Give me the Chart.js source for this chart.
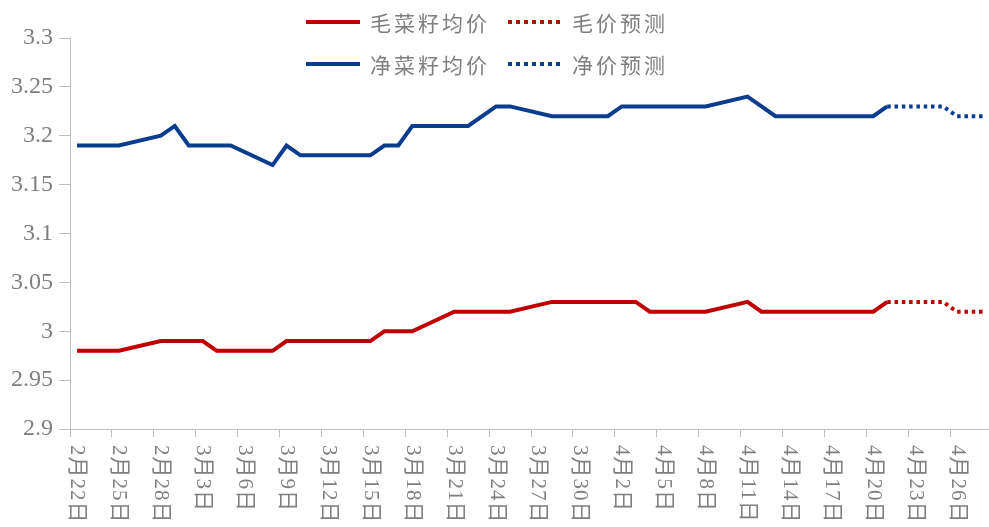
<!DOCTYPE html>
<html>
<head>
<meta charset="utf-8">
<script src="https://cdn.jsdelivr.net/npm/chart.js@4.4.1/dist/chart.umd.min.js"></script>
<style>
    html, body { margin: 0; padding: 0; background: #fff; overflow: hidden; }
    #wrap { position: relative; width: 994px; height: 527px; }
    #legend {
        position: absolute; left: 306px; top: 6px;
        display: grid; grid-template-columns: 202px auto; row-gap: 11px;
    }
    .item {
        display: flex; align-items: center; height: 31px;
        font: 21px "Noto Sans CJK SC", sans-serif; color: #7f7f7f; letter-spacing: 3px;
    }
    .swatch { width: 54px; height: 4px; margin-right: 10px; }
</style>
</head>
<body>
<div id="wrap">
    <canvas id="grafico"></canvas>
    <div id="legend"></div>
</div>
<script>
// datas (eixo diário, 2/22 a 4/28)
var dias = [
    '2月22日', '2月23日', '2月24日', '2月25日', '2月26日', '2月27日', '2月28日',
    '3月1日', '3月2日', '3月3日', '3月4日', '3月5日', '3月6日', '3月7日', '3月8日', '3月9日', '3月10日',
    '3月11日', '3月12日', '3月13日', '3月14日', '3月15日', '3月16日', '3月17日', '3月18日', '3月19日', '3月20日',
    '3月21日', '3月22日', '3月23日', '3月24日', '3月25日', '3月26日', '3月27日', '3月28日', '3月29日', '3月30日', '3月31日',
    '4月1日', '4月2日', '4月3日', '4月4日', '4月5日', '4月6日', '4月7日', '4月8日', '4月9日', '4月10日',
    '4月11日', '4月12日', '4月13日', '4月14日', '4月15日', '4月16日', '4月17日', '4月18日', '4月19日', '4月20日',
    '4月21日', '4月22日', '4月23日', '4月24日', '4月25日', '4月26日', '4月27日', '4月28日'
];

var n = null;
// 毛菜籽均价
var maoPreco = [
    2.98, 2.98, 2.98, 2.98, n, n, 2.99,
    2.99, 2.99, 2.99, 2.98, 2.98, 2.98, 2.98, 2.98, 2.99, 2.99,
    2.99, 2.99, 2.99, 2.99, 2.99, 3.00, 3.00, 3.00, n, n,
    3.02, 3.02, 3.02, 3.02, 3.02, n, n, 3.03, 3.03, 3.03, 3.03,
    3.03, 3.03, 3.03, 3.02, 3.02, 3.02, 3.02, 3.02, n, n,
    3.03, 3.02, 3.02, 3.02, 3.02, 3.02, 3.02, 3.02, 3.02, 3.02,
    3.03, n, n, n, n, n, n, n
];
// 毛价预测
var maoPrev = [
    n, n, n, n, n, n, n,
    n, n, n, n, n, n, n, n, n, n,
    n, n, n, n, n, n, n, n, n, n,
    n, n, n, n, n, n, n, n, n, n, n,
    n, n, n, n, n, n, n, n, n, n,
    n, n, n, n, n, n, n, n, n, n,
    3.03, 3.03, 3.03, 3.03, 3.03, 3.02, 3.02, 3.02
];
// 净菜籽均价
var jingPreco = [
    3.19, 3.19, 3.19, 3.19, n, n, 3.20,
    3.21, 3.19, 3.19, 3.19, 3.19, n, n, 3.17, 3.19, 3.18,
    3.18, 3.18, 3.18, 3.18, 3.18, 3.19, 3.19, 3.21, 3.21, 3.21,
    3.21, 3.21, n, 3.23, 3.23, n, n, 3.22, 3.22, 3.22, 3.22,
    3.22, 3.23, 3.23, 3.23, 3.23, 3.23, 3.23, 3.23, n, n,
    3.24, n, 3.22, 3.22, 3.22, 3.22, 3.22, 3.22, 3.22, 3.22,
    3.23, n, n, n, n, n, n, n
];
// 净价预测
var jingPrev = [
    n, n, n, n, n, n, n,
    n, n, n, n, n, n, n, n, n, n,
    n, n, n, n, n, n, n, n, n, n,
    n, n, n, n, n, n, n, n, n, n, n,
    n, n, n, n, n, n, n, n, n, n,
    n, n, n, n, n, n, n, n, n, n,
    3.23, 3.23, 3.23, 3.23, 3.23, 3.22, 3.22, 3.22
];

var vermelho = '#c00000';
var azul = '#0b3d8f';
var cinza = '#7f7f7f';
var linhaEixo = '#bfbfbf';
var pontilhado = [3.5, 3.8];

// rótulos do eixo x girados 90° no sentido horário
var rotulosX = {
    id: 'rotulosX',
    afterDraw: function (chart) {
        var x = chart.scales.x;
        var ctx = chart.ctx;
        ctx.save();
        ctx.fillStyle = cinza;
        ctx.font = '21px "Liberation Serif", "Noto Sans CJK SC"';
        ctx.letterSpacing = '1px';
        ctx.textAlign = 'left';
        ctx.textBaseline = 'middle';
        dias.forEach(function (d, i) {
            if (i % 3 !== 0) return;
            ctx.save();
            ctx.translate(x.getPixelForValue(i), x.top + 16);
            ctx.rotate(Math.PI / 2);
            ctx.fillText(d, 0, 0);
            ctx.restore();
        });
        ctx.letterSpacing = '0px';
        ctx.restore();
    }
};

var grafico = new Chart(document.getElementById('grafico'), {
    type: 'line',
    data: {
        labels: dias,
        datasets: [
            { label: '毛菜籽均价', data: maoPreco, borderColor: vermelho },
            { label: '毛价预测', data: maoPrev, borderColor: vermelho, borderDash: pontilhado },
            { label: '净菜籽均价', data: jingPreco, borderColor: azul },
            { label: '净价预测', data: jingPrev, borderColor: azul, borderDash: pontilhado }
        ]
    },
    options: {
        responsive: true,
        maintainAspectRatio: false,
        animation: false,
        spanGaps: true,
        layout: { padding: { top: 38, right: 2, left: 0, bottom: 0 } },
        elements: {
            line: { borderWidth: 4, tension: 0, fill: false },
            point: { radius: 0, hoverRadius: 0 }
        },
        plugins: {
            legend: { display: false },
            tooltip: { enabled: false }
        },
        scales: {
            x: {
                type: 'category',
                offset: true,
                grid: {
                    offset: true,
                    drawOnChartArea: false,
                    tickLength: 8,
                    color: function (c) {
                        return (c.index !== undefined && c.index % 3 === 0) ? linhaEixo : 'rgba(0,0,0,0)';
                    }
                },
                border: { color: linhaEixo, width: 1 },
                ticks: { display: false, autoSkip: false },
                afterFit: function (s) { s.height = 98; }
            },
            y: {
                min: 2.9,
                max: 3.3,
                grid: { drawOnChartArea: false, tickLength: 11, color: linhaEixo },
                border: { color: linhaEixo, width: 1 },
                ticks: {
                    stepSize: 0.05,
                    padding: 6,
                    color: cinza,
                    font: { family: '"Liberation Serif", serif', size: 24 },
                    callback: function (v) { return String(Number(v.toFixed(2))); }
                },
                afterFit: function (s) { s.width = 70; }
            }
        }
    },
    plugins: [rotulosX]
});

// legenda em HTML, 2 colunas
var legenda = document.getElementById('legend');
grafico.data.datasets.forEach(function (ds) {
    var item = document.createElement('div');
    item.className = 'item';
    var amostra = document.createElement('span');
    amostra.className = 'swatch';
    if (ds.borderDash) {
        amostra.style.background = 'repeating-linear-gradient(90deg, ' + ds.borderColor + ' 0 4px, transparent 4px 8px)';
    } else {
        amostra.style.background = ds.borderColor;
    }
    var texto = document.createElement('span');
    texto.textContent = ds.label;
    item.appendChild(amostra);
    item.appendChild(texto);
    legenda.appendChild(item);
});
</script>
</body>
</html>
